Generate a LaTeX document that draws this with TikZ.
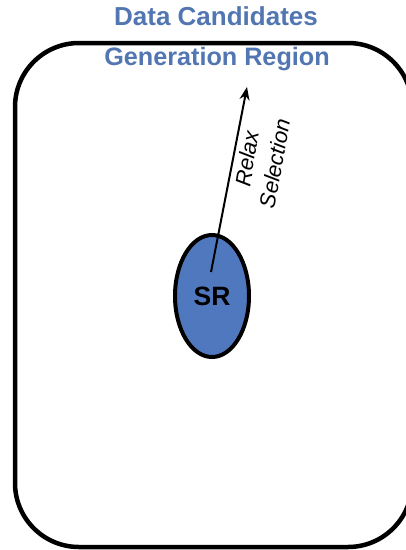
\documentclass[tikz,border=0pt]{standalone}
\usepackage{fontspec}
\setmainfont{Liberation Sans}
\usetikzlibrary{shapes.geometric,arrows.meta}
\definecolor{titleblue}{RGB}{82,118,178}
\definecolor{srblue}{RGB}{80,120,190}
\tikzset{
  title/.style={text=titleblue, font=\bfseries\fontsize{26}{30}\selectfont, anchor=base, inner sep=0pt},
  regionbox/.style={draw=black, line width=4.5pt, rounded corners=64pt},
  srnode/.style={ellipse, draw=black, line width=4pt, fill=srblue, minimum width=74pt, minimum height=122pt, inner sep=0pt, font=\bfseries\fontsize{26.5}{30}\selectfont},
  relaxarrow/.style={line width=2pt, -{Stealth[length=13pt,width=10pt]}},
  relaxlabel/.style={font=\itshape\fontsize{22}{28}\selectfont, align=center, rotate=80, inner sep=0pt}
}
\begin{document}
\begin{tikzpicture}[x=1pt,y=-1pt]
\useasboundingbox (0,0) rectangle (406,550);
\fill[white] (0,0) rectangle (406,550);
\draw[regionbox] (15,43) rectangle (412,547);
\node[title] (dc) at (216,25) {Data Candidates};
\node[title, font=\bfseries\fontsize{25.2}{29}\selectfont] (gr) at (217,65) {Generation Region};
\node[srnode] (sr) at (212,296) {SR};
\coordinate (src) at (211,272);
\coordinate (tip) at (247,87);
\draw[relaxarrow] (src) -- (tip);
\node[relaxlabel] (rl) at (261,161) {Relax\\Selection};
\end{tikzpicture}
\end{document}
